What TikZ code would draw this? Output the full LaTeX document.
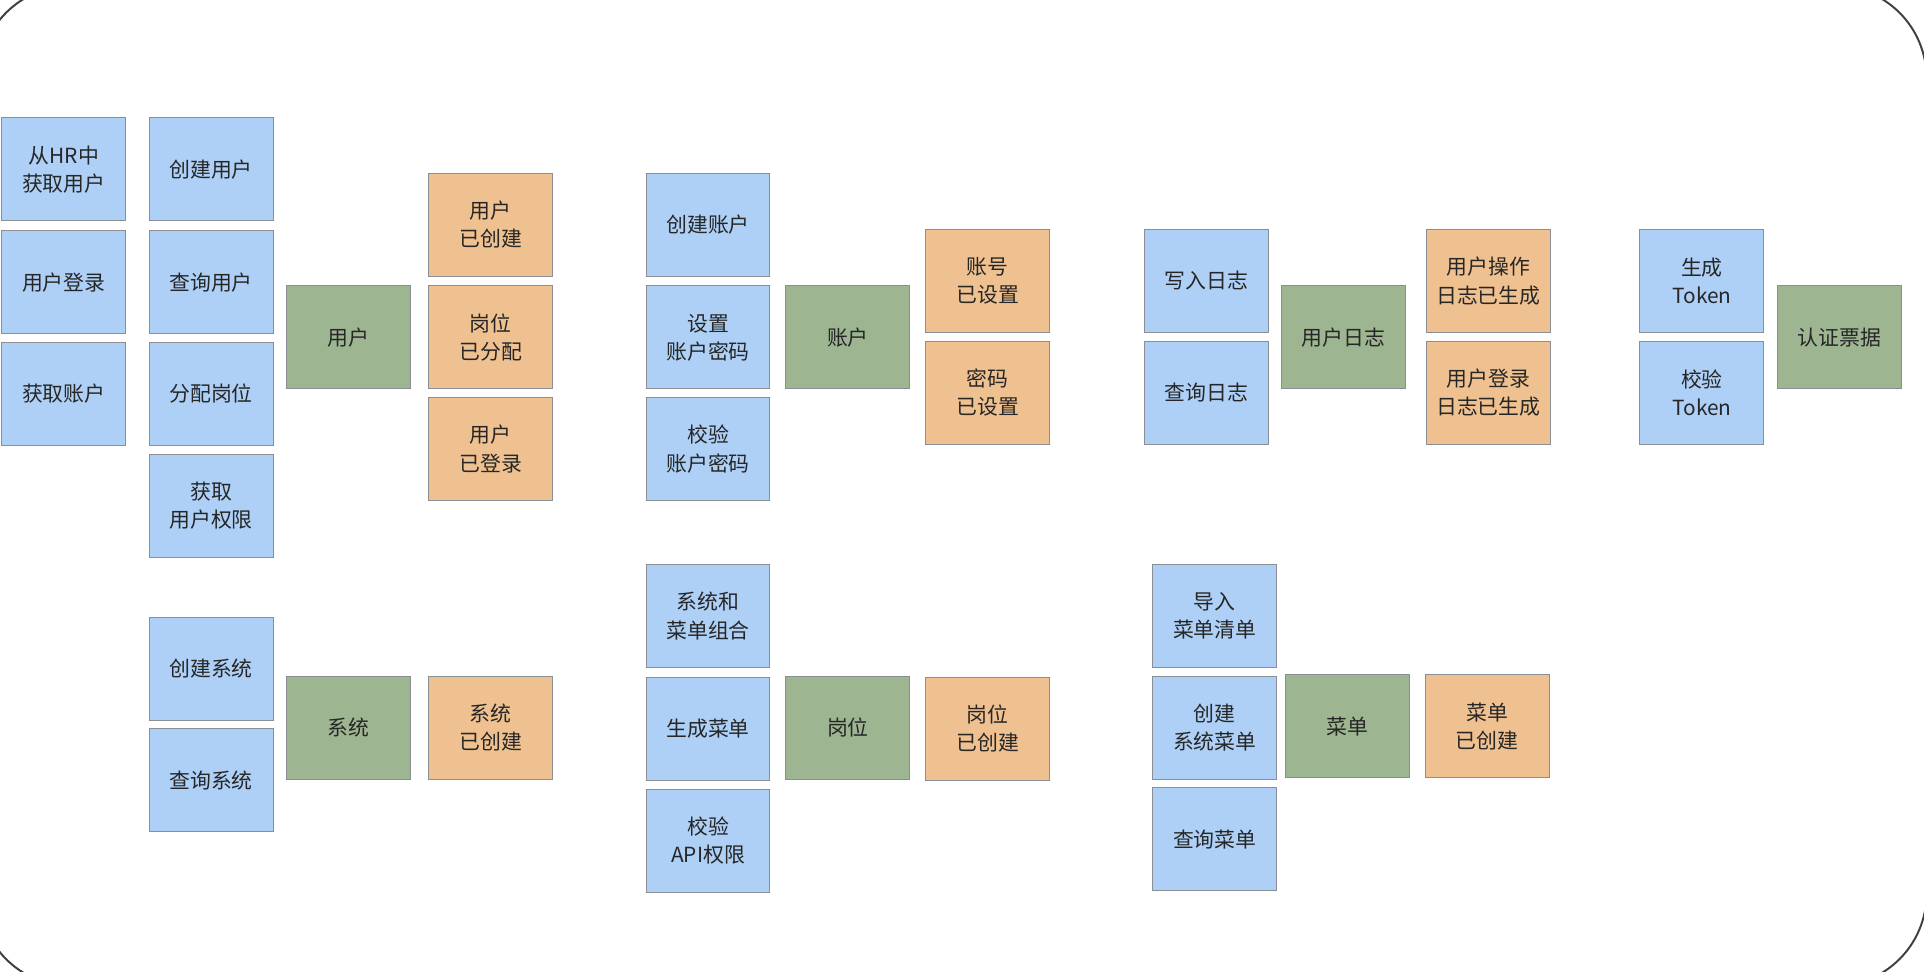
\documentclass[tikz,border=0pt]{standalone}
\usepackage{fontspec}
\setmainfont{Noto Sans CJK SC}
\usepackage{tikz}
\definecolor{mBlue}{HTML}{AED0F6}
\definecolor{mGreen}{HTML}{9DB591}
\definecolor{mOrange}{HTML}{F0C190}
\definecolor{mEdge}{HTML}{8A8F96}

\begin{document}
\begin{tikzpicture}[x=1pt, y=-1pt,
      bx/.style={draw=mEdge, line width=0.8pt, minimum width=101pt, minimum height=84pt,
        inner sep=0pt, align=center, text=black!85, font=\fontsize{17}{23}\selectfont},
      cmd/.style={bx, fill=mBlue},
      agg/.style={bx, fill=mGreen},
      evt/.style={bx, fill=mOrange}]
    \useasboundingbox (0,0) rectangle (1568,792);
    % frame
    \begin{scope}
      \clip (0,0) rectangle (1568,792);
      \draw[black!75, line width=1.6pt, rounded corners=75pt] (-17,-11.6) rectangle (1570,803.6);
    \end{scope}
    % user
    \node[cmd] (hr)        at (52,138)  {从HR中\\获取用户};
    \node[cmd] (login)     at (52,230)  {用户登录};
    \node[cmd] (getacc)    at (52,321)  {获取账户};
    \node[cmd] (newuser)   at (172,138) {创建用户};
    \node[cmd] (finduser)  at (172,230) {查询用户};
    \node[cmd] (assign)    at (172,321) {分配岗位};
    \node[cmd] (getperm)   at (172,412) {获取\\用户权限};
    \node[agg] (user)      at (284,275) {用户};
    \node[evt] (usermade)  at (400,183) {用户\\已创建};
    \node[evt] (posgiven)  at (400,275) {岗位\\已分配};
    \node[evt] (userin)    at (400,366) {用户\\已登录};
    % account
    \node[cmd] (newacc)    at (577,183) {创建账户};
    \node[cmd] (setpwd)    at (577,275) {设置\\账户密码};
    \node[cmd] (chkpwd)    at (577,366) {校验\\账户密码};
    \node[agg] (account)   at (691,275) {账户};
    \node[evt] (accset)    at (805,229) {账号\\已设置};
    \node[evt] (pwdset)    at (805,320) {密码\\已设置};
    % user log
    \node[cmd] (writelog)  at (983,229) {写入日志};
    \node[cmd] (findlog)   at (983,320) {查询日志};
    \node[agg] (userlog)   at (1095,275) {用户日志};
    \node[evt] (oplog)     at (1213,229) {用户操作\\日志已生成};
    \node[evt] (loginlog)  at (1213,320) {用户登录\\日志已生成};
    % token
    \node[cmd] (gentoken)  at (1387,229) {生成\\Token};
    \node[cmd] (chktoken)  at (1387,320) {校验\\Token};
    \node[agg] (ticket)    at (1499,275) {认证票据};
    % system
    \node[cmd] (newsys)    at (172,545) {创建系统};
    \node[cmd] (findsys)   at (172,636) {查询系统};
    \node[agg] (system)    at (284,593) {系统};
    \node[evt] (sysmade)   at (400,593) {系统\\已创建};
    % position
    \node[cmd] (combine)   at (577,502) {系统和\\菜单组合};
    \node[cmd] (genmenu)   at (577,594) {生成菜单};
    \node[cmd] (chkapi)    at (577,685) {校验\\API权限};
    \node[agg] (position)  at (691,593) {岗位};
    \node[evt] (posmade)   at (805,594) {岗位\\已创建};
    % menu
    \node[cmd] (import)    at (990,502) {导入\\菜单清单};
    \node[cmd] (newmenu)   at (990,593) {创建\\系统菜单};
    \node[cmd] (findmenu)  at (990,684) {查询菜单};
    \node[agg] (menu)      at (1098,592) {菜单};
    \node[evt] (menumade)  at (1212,592) {菜单\\已创建};
  \end{tikzpicture}
\end{document}
